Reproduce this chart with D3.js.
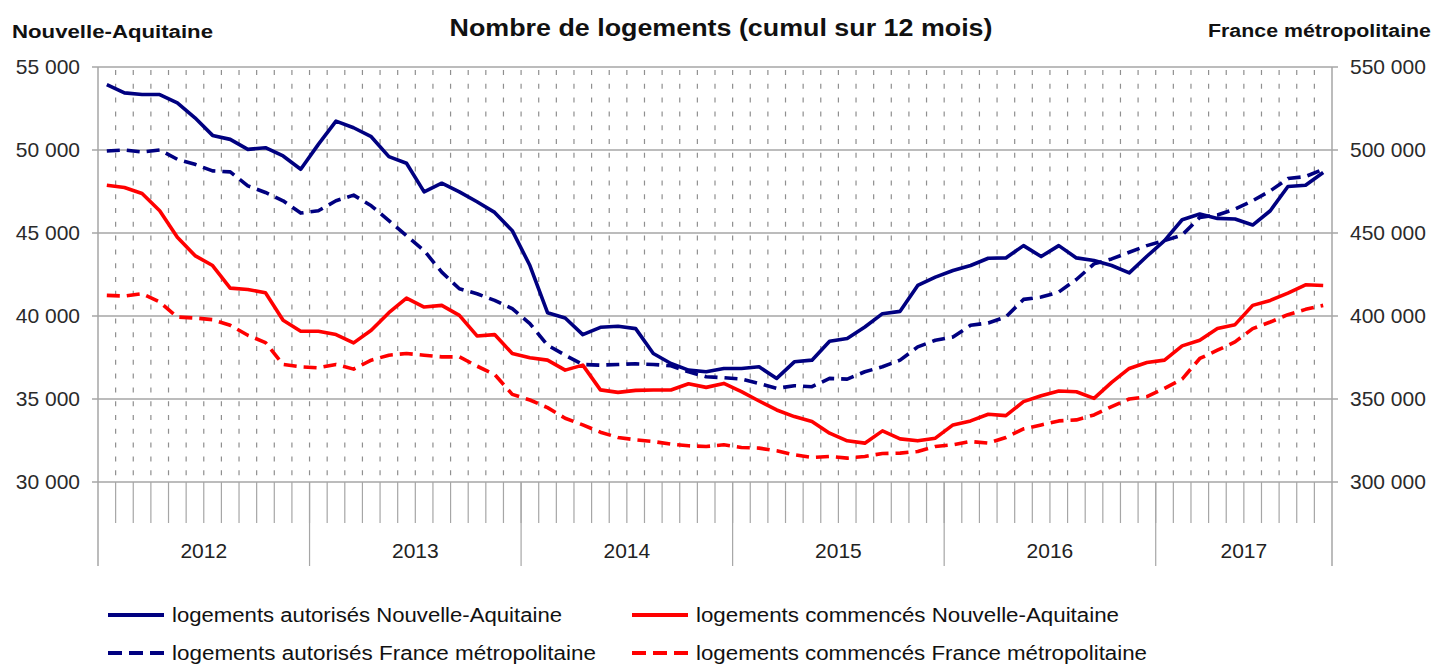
<!DOCTYPE html>
<html>
<head>
<meta charset="utf-8">
<script src="https://cdn.jsdelivr.net/npm/d3@7"></script>
<style>
    body { margin: 0; background: #fff; }
    svg { display: block; font-family: "Liberation Sans", Arial, sans-serif; }
</style>
</head>
<body>
<svg id="chart" width="1446" height="666"></svg>
<script>
// categories: one per month, Jan 2012 -> Oct 2017
const months = [
    "2012-01", "2012-02", "2012-03", "2012-04", "2012-05", "2012-06", "2012-07", "2012-08", "2012-09", "2012-10", "2012-11", "2012-12",
    "2013-01", "2013-02", "2013-03", "2013-04", "2013-05", "2013-06", "2013-07", "2013-08", "2013-09", "2013-10", "2013-11", "2013-12",
    "2014-01", "2014-02", "2014-03", "2014-04", "2014-05", "2014-06", "2014-07", "2014-08", "2014-09", "2014-10", "2014-11", "2014-12",
    "2015-01", "2015-02", "2015-03", "2015-04", "2015-05", "2015-06", "2015-07", "2015-08", "2015-09", "2015-10", "2015-11", "2015-12",
    "2016-01", "2016-02", "2016-03", "2016-04", "2016-05", "2016-06", "2016-07", "2016-08", "2016-09", "2016-10", "2016-11", "2016-12",
    "2017-01", "2017-02", "2017-03", "2017-04", "2017-05", "2017-06", "2017-07", "2017-08", "2017-09", "2017-10"
];
const years = ["2012", "2013", "2014", "2015", "2016", "2017"];

// left axis (Nouvelle-Aquitaine)
const autorisesNA = [
    53940, 53440, 53340, 53340, 52840, 51940, 50880, 50640, 50040, 50140, 49640, 48840,
    50340, 51740, 51340, 50800, 49600, 49200, 47480, 48000, 47480, 46880, 46240, 45140,
    43040, 40200, 39880, 38880, 39320, 39380, 39240, 37740, 37140, 36740, 36640, 36840,
    36840, 36940, 36240, 37240, 37340, 38480, 38640, 39340, 40140, 40280, 41840, 42340,
    42740, 43040, 43480, 43500, 44240, 43580, 44240, 43500, 43340, 43040, 42600, 43600,
    44540, 45800, 46140, 45880, 45840, 45480, 46340, 47800, 47880, 48640
];
const commencesNA = [
    47880, 47740, 47380, 46340, 44740, 43640, 43040, 41680, 41600, 41400, 39740, 39080,
    39080, 38880, 38380, 39140, 40200, 41080, 40540, 40640, 40040, 38800, 38880, 37740,
    37480, 37340, 36740, 37040, 35550, 35400, 35520, 35540, 35540, 35920, 35700, 35940,
    35440, 34880, 34340, 33940, 33640, 32940, 32480, 32340, 33080, 32600, 32480, 32640,
    33440, 33680, 34080, 34000, 34840, 35200, 35480, 35440, 35040, 36000, 36840, 37200,
    37340, 38200, 38540, 39240, 39480, 40640, 40940, 41380, 41880, 41840
];

// right axis (France métropolitaine)
const autorisesFR = [
    499400, 500000, 498800, 500000, 494400, 491400, 487400, 486800, 478400, 474400, 469400, 462000,
    463400, 469400, 472800, 466400, 457400, 448400, 439400, 426400, 416400, 413400, 409400, 404400,
    395400, 382400, 376400, 370800, 370400, 370800, 371200, 370800, 370000, 366400, 363400, 362800,
    362000, 359400, 356400, 358000, 357400, 362400, 362000, 366400, 369400, 373400, 381400, 385400,
    387400, 394400, 395800, 399400, 410000, 411400, 414400, 422000, 431400, 434400, 438400, 442400,
    445400, 448800, 459400, 460800, 464400, 469400, 475400, 482800, 484000, 488400
];
const commencesFR = [
    412400, 412000, 413400, 408400, 399400, 398800, 397800, 394400, 388400, 384000, 370800, 369400,
    368800, 370800, 368000, 373400, 376400, 377400, 376400, 375400, 375400, 369800, 364800, 352800,
    349400, 344800, 338400, 334400, 330000, 326800, 325400, 324400, 322800, 321800, 321400, 322400,
    320800, 320400, 318800, 316400, 314800, 315400, 314400, 315400, 317200, 317400, 318400, 321400,
    322400, 324400, 323400, 326800, 332000, 334400, 336800, 337400, 340400, 345400, 350000, 351400,
    356400, 362000, 374400, 379400, 384400, 392400, 396400, 400800, 404000, 406400
];

const leftTicks = [30000, 35000, 40000, 45000, 50000, 55000];
const rightTicks = [300000, 350000, 400000, 450000, 500000, 550000];

const legendLabels = [
    "logements autorisés Nouvelle-Aquitaine",
    "logements commencés Nouvelle-Aquitaine",
    "logements autorisés France métropolitaine",
    "logements commencés France métropolitaine"
];

const NAVY = "#000080", RED = "#ff0000", GRID = "#a6a6a6";

const plot = {left: 98, right: 1332, top: 67, bottom: 482};

const svg = d3.select("#chart");
const frLocale = d3.formatLocale({decimal: ",", thousands: " ", grouping: [3], currency: ["", " €"]});
const fmt = frLocale.format(",");

const x = d3.scaleBand().domain(months).range([plot.left, plot.right]).padding(0);
const bw = x.bandwidth();
const yL = d3.scaleLinear().domain([30000, 55000]).range([plot.bottom, plot.top]);
const yR = d3.scaleLinear().domain([300000, 550000]).range([plot.bottom, plot.top]);

// titles
svg.append("text")
    .attr("x", 721).attr("y", 36)
    .attr("text-anchor", "middle")
    .attr("font-size", 23).attr("font-weight", "bold").attr("fill", "#111")
    .attr("textLength", 543).attr("lengthAdjust", "spacingAndGlyphs")
    .text("Nombre de logements (cumul sur 12 mois)");
svg.append("text")
    .attr("x", 12).attr("y", 38)
    .attr("font-size", 18).attr("font-weight", "bold").attr("fill", "#111")
    .attr("textLength", 201).attr("lengthAdjust", "spacingAndGlyphs")
    .text("Nouvelle-Aquitaine");
svg.append("text")
    .attr("x", 1208).attr("y", 37)
    .attr("font-size", 18).attr("font-weight", "bold").attr("fill", "#111")
    .attr("textLength", 223).attr("lengthAdjust", "spacingAndGlyphs")
    .text("France métropolitaine");

// vertical dashed grid at month boundaries
const inner = months.slice(1);
svg.append("g").selectAll("line")
    .data(inner).enter().append("line")
    .attr("x1", d => x(d)).attr("x2", d => x(d))
    .attr("y1", plot.top).attr("y2", plot.bottom)
    .attr("stroke", "#8f8f8f").attr("stroke-width", 1.2)
    .attr("stroke-dasharray", "5,8.8").attr("stroke-dashoffset", -3);

// month ticks below the axis
svg.append("g").selectAll("line")
    .data(inner).enter().append("line")
    .attr("x1", d => x(d)).attr("x2", d => x(d))
    .attr("y1", plot.bottom).attr("y2", 523)
    .attr("stroke", GRID).attr("stroke-width", 1.2);

// horizontal grid
svg.append("g").selectAll("line")
    .data(leftTicks).enter().append("line")
    .attr("x1", plot.left - 6).attr("x2", plot.right + 6)
    .attr("y1", d => yL(d)).attr("y2", d => yL(d))
    .attr("stroke", GRID).attr("stroke-width", 1.5);

// year separators and labels
const yearStart = (i) => x(months[i * 12]);
const yearEnd = (i) => x(months[Math.min(i * 12 + 11, months.length - 1)]) + bw;
svg.append("g").selectAll("line")
    .data(years.slice(1)).enter().append("line")
    .attr("x1", (d, i) => yearStart(i + 1)).attr("x2", (d, i) => yearStart(i + 1))
    .attr("y1", plot.bottom).attr("y2", 566)
    .attr("stroke", GRID).attr("stroke-width", 1.2);
[plot.left, plot.right].forEach(px => {
    svg.append("line")
        .attr("x1", px).attr("x2", px).attr("y1", plot.top).attr("y2", 566)
        .attr("stroke", GRID).attr("stroke-width", 1.5);
});
svg.append("g").selectAll("text")
    .data(years).enter().append("text")
    .attr("x", (d, i) => (yearStart(i) + yearEnd(i)) / 2)
    .attr("y", 558)
    .attr("text-anchor", "middle")
    .attr("font-size", 21).attr("fill", "#222")
    .text(d => d);

// y axes labels
const axL = svg.append("g")
    .attr("transform", `translate(${plot.left},0)`)
    .call(d3.axisLeft(yL).tickValues(leftTicks).tickFormat(fmt).tickSize(0).tickPadding(18));
const axR = svg.append("g")
    .attr("transform", `translate(${plot.right},0)`)
    .call(d3.axisRight(yR).tickValues(rightTicks).tickFormat(fmt).tickSize(0).tickPadding(18));
[axL, axR].forEach(ax => {
    ax.select(".domain").remove();
    ax.selectAll("text")
        .attr("font-size", 21)
        .attr("font-family", "'Liberation Sans', Arial, sans-serif")
        .attr("fill", "#2a2a2a");
});

// series
const series = [
    {values: commencesFR, scale: yR, color: RED, dash: "13,7"},
    {values: autorisesFR, scale: yR, color: NAVY, dash: "13,7"},
    {values: commencesNA, scale: yL, color: RED, dash: null},
    {values: autorisesNA, scale: yL, color: NAVY, dash: null}
];
series.forEach(s => {
    const line = d3.line()
        .x((d, i) => x(months[i]) + bw / 2)
        .y(d => s.scale(d));
    svg.append("path")
        .datum(s.values)
        .attr("d", line)
        .attr("fill", "none")
        .attr("stroke", s.color)
        .attr("stroke-width", 3.6)
        .attr("stroke-linejoin", "round")
        .attr("stroke-dasharray", s.dash);
});

// legend
const legend = [
    {label: legendLabels[0], color: NAVY, dash: null, x: 108, y: 615, w: 390},
    {label: legendLabels[1], color: RED, dash: null, x: 632, y: 615, w: 423},
    {label: legendLabels[2], color: NAVY, dash: "14,7", x: 108, y: 653, w: 424},
    {label: legendLabels[3], color: RED, dash: "14,7", x: 632, y: 653, w: 451}
];
const lg = svg.append("g").selectAll("g")
    .data(legend).enter().append("g")
    .attr("transform", d => `translate(${d.x},${d.y})`);
lg.append("line")
    .attr("x1", 0).attr("x2", 56).attr("y1", 0).attr("y2", 0)
    .attr("stroke", d => d.color).attr("stroke-width", 4)
    .attr("stroke-dasharray", d => d.dash);
lg.append("text")
    .attr("x", 64).attr("y", 7)
    .attr("font-size", 20).attr("fill", "#111")
    .attr("textLength", d => d.w).attr("lengthAdjust", "spacingAndGlyphs")
    .text(d => d.label);
</script>
</body>
</html>
